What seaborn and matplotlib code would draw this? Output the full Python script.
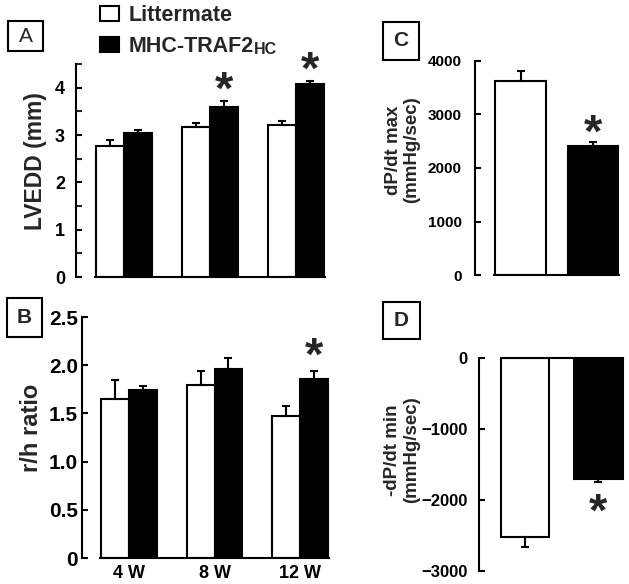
import matplotlib
matplotlib.use('Agg')
import matplotlib.pyplot as plt
from matplotlib.patches import Patch, Rectangle
import seaborn as sns
import pandas as pd
import numpy as np

# ── data ──────────────────────────────────────────────────────
weeks = ['4 W', '8 W', '12 W']
groups = ['Littermate', 'MHC-TRAF2HC']

lvedd_lit = [2.77, 3.17, 3.21]
lvedd_lit_sem = [0.13, 0.09, 0.09]
lvedd_tg = [3.04, 3.59, 4.09]
lvedd_tg_sem = [0.07, 0.14, 0.05]

rh_lit = [1.65, 1.79, 1.47]
rh_lit_sem = [0.20, 0.15, 0.11]
rh_tg = [1.74, 1.96, 1.86]
rh_tg_sem = [0.04, 0.11, 0.08]

dpdt_max = [3620, 2410]
dpdt_max_sem = [180, 70]
dpdt_min = [-2520, -1705]
dpdt_min_sem = [140, 45]

sig_a = [False, True, True]
sig_b = [False, False, True]

sns.set_theme(style='white')
plt.rcParams['font.family'] = ['Liberation Sans', 'DejaVu Sans']
plt.rcParams['font.weight'] = 'bold'

pal = {'Littermate': 'white', 'MHC-TRAF2HC': 'black'}
W, H = 629, 584
fig = plt.figure(figsize=(W / 100, H / 100), dpi=100)


def px_axes(left, top, right, bottom):
    return fig.add_axes([left / W, 1 - bottom / H, (right - left) / W, (bottom - top) / H])


def style(ax, ysize):
    for s in ['top', 'right']:
        ax.spines[s].set_visible(False)
    for s in ['left', 'bottom']:
        ax.spines[s].set_linewidth(1.5)
        ax.spines[s].set_color('black')
    ax.tick_params(axis='y', direction='in', length=4, width=1.5, labelsize=ysize,
                   left=True, colors='black')
    ax.tick_params(axis='y', which='minor', direction='in', length=4, width=1.5, left=True)
    ax.tick_params(axis='x', length=0)
    ax.set_xlabel('')
    ax.set_ylabel('')
    ax.grid(False)
    ax.set_facecolor('none')


def add_err(ax, sems_by_hue):
    for cont, sems in zip(ax.containers, sems_by_hue):
        xs = [b.get_x() + b.get_width() / 2 for b in cont]
        ys = [b.get_y() + b.get_height() for b in cont]
        ax.errorbar(xs, ys, yerr=[[0] * len(sems), sems], fmt='none', ecolor='black',
                    elinewidth=1.5, capsize=3.2, capthick=1.5, zorder=5, clip_on=False)


STAR_FS = 34


def star(ax, x, y, gap_px):
    # glyph centre of '*' sits roughly 0.46 em above the baseline
    dy = (gap_px - 0.46 * STAR_FS * 100 / 72) * 0.72
    ax.annotate('*', xy=(x, y), xytext=(0, dy), textcoords='offset points',
                ha='center', va='baseline', fontsize=STAR_FS, fontweight='bold',
                annotation_clip=False)


def ylab(ax, text, x, y, size):
    ax.text(x, y, text, transform=ax.transAxes, rotation=90, ha='center', va='center',
            fontsize=size, fontweight='bold', multialignment='center', linespacing=1.1)


# ── A: LVEDD ──────────────────────────────────────────────────
df_a = pd.DataFrame({'week': weeks * 2,
                     'group': [groups[0]] * 3 + [groups[1]] * 3,
                     'value': lvedd_lit + lvedd_tg})
axA = px_axes(76, 64.2, 330, 277)
sns.barplot(data=df_a, x='week', y='value', hue='group', palette=pal, order=weeks,
            hue_order=groups, width=0.65, errorbar=None, edgecolor='black',
            linewidth=1.5, saturation=1, legend=False, ax=axA)
style(axA, 13)
axA.set_ylim(0, 4.5)
axA.set_xlim(-0.558, 2.395)
axA.set_yticks([0, 1, 2, 3, 4])
axA.set_yticks(np.arange(0.5, 4.6, 1.0), minor=True)
axA.set_xticklabels([])
axA.spines['bottom'].set_bounds(-0.34, 2.34)
axA.tick_params(axis='y', pad=8)
add_err(axA, [lvedd_lit_sem, lvedd_tg_sem])
for i, s in enumerate(sig_a):
    if s:
        star(axA, i + 0.1625, lvedd_tg[i] + lvedd_tg_sem[i], 19)
ylab(axA, 'LVEDD (mm)', -0.161, 0.545, 16.5)

# ── B: r/h ratio ──────────────────────────────────────────────
df_b = pd.DataFrame({'week': weeks * 2,
                     'group': [groups[0]] * 3 + [groups[1]] * 3,
                     'value': rh_lit + rh_tg})
axB = px_axes(82, 317, 332, 558)
sns.barplot(data=df_b, x='week', y='value', hue='group', palette=pal, order=weeks,
            hue_order=groups, width=0.65, errorbar=None, edgecolor='black',
            linewidth=1.5, saturation=1, legend=False, ax=axB)
style(axB, 15)
axB.set_ylim(0, 2.5)
axB.set_xlim(-0.55, 2.374)
axB.set_yticks([0, 0.5, 1.0, 1.5, 2.0, 2.5])
axB.set_yticklabels(['0', '0.5', '1.0', '1.5', '2.0', '2.5'])
axB.spines['bottom'].set_bounds(-0.34, 2.34)
axB.tick_params(axis='y', pad=3)
axB.tick_params(axis='x', labelsize=13, pad=5, colors='black')
add_err(axB, [rh_lit_sem, rh_tg_sem])
for i, s in enumerate(sig_b):
    if s:
        star(axB, i + 0.1625, rh_tg[i] + rh_tg_sem[i], 23)
ylab(axB, 'r/h ratio', -0.2, 0.54, 17)

# ── C: dP/dt max ──────────────────────────────────────────────
df_c = pd.DataFrame({'group': groups, 'value': dpdt_max})
axC = px_axes(475, 60.7, 620, 275.3)
sns.barplot(data=df_c, x='group', y='value', hue='group', palette=pal, order=groups,
            width=0.7, errorbar=None, edgecolor='black', linewidth=1.5,
            saturation=1, legend=False, ax=axC)
style(axC, 11)
axC.set_ylim(0, 4000)
axC.set_xlim(-0.628, 1.372)
axC.set_yticks([0, 1000, 2000, 3000, 4000])
axC.set_xticklabels([])
axC.spines['bottom'].set_bounds(-0.36, 1.36)
axC.tick_params(axis='y', pad=9.5)
for cont, v, e in zip(axC.containers, dpdt_max, dpdt_max_sem):
    for b in cont:
        axC.errorbar(b.get_x() + b.get_width() / 2, v, yerr=[[0], [e]], fmt='none',
                     ecolor='black', elinewidth=1.5, capsize=3.2, capthick=1.5, zorder=5)
star(axC, 1, dpdt_max[1] + dpdt_max_sem[1], 17)
ylab(axC, 'dP/dt max\n(mmHg/sec)', -0.497, 0.584, 13.5)

# ── D: -dP/dt min ─────────────────────────────────────────────
df_d = pd.DataFrame({'group': groups, 'value': dpdt_min})
axD = px_axes(479, 358, 627, 570.7)
sns.barplot(data=df_d, x='group', y='value', hue='group', palette=pal, order=groups,
            width=0.66, errorbar=None, edgecolor='black', linewidth=1.5,
            saturation=1, legend=False, ax=axD)
style(axD, 12)
axD.set_ylim(-3000, 0)
axD.set_xlim(-0.626, 1.39)
axD.set_yticks([0, -1000, -2000, -3000])
axD.set_xticklabels([])
axD.spines['bottom'].set_visible(False)
axD.spines['top'].set_visible(True)
axD.spines['top'].set_linewidth(1.5)
axD.spines['top'].set_color('black')
axD.spines['top'].set_bounds(-0.33, 1.33)
axD.tick_params(axis='y', pad=8)
for cont, v, e in zip(axD.containers, dpdt_min, dpdt_min_sem):
    for b in cont:
        axD.errorbar(b.get_x() + b.get_width() / 2, v, yerr=[[e], [0]], fmt='none',
                     ecolor='black', elinewidth=1.5, capsize=3.2, capthick=1.5, zorder=5)
star(axD, 1, dpdt_min[1] - dpdt_min_sem[1], -22)
ylab(axD, '-dP/dt min\n(mmHg/sec)', -0.52, 0.567, 13.5)

# ── panel letters ─────────────────────────────────────────────
boxes = [('A', 8, 21, 43, 51, 'normal'), ('B', 7, 298, 42, 337, 'bold'),
         ('C', 383, 22, 419, 60, 'bold'), ('D', 383, 302, 420, 339, 'bold')]
for lab, x0, y0, x1, y1, wt in boxes:
    fig.patches.append(Rectangle((x0 / W, 1 - y1 / H), (x1 - x0) / W, (y1 - y0) / H,
                                 transform=fig.transFigure, fill=False,
                                 ec='black', lw=1.5))
    fig.text((x0 + x1) / 2 / W, 1 - (y0 + y1) / 2 / H, lab, ha='center', va='center',
             fontsize=15, fontweight=wt)

# ── legend ────────────────────────────────────────────────────
handles = [Patch(fc='white', ec='black', lw=1.5), Patch(fc='black', ec='black', lw=1.5)]
leg = fig.legend(handles, ['Littermate', 'MHC-TRAF2'], loc='upper left',
                 bbox_to_anchor=(98 / W, 1 - 3 / H), frameon=False,
                 prop={'weight': 'bold', 'size': 15.5}, handlelength=0.88,
                 handleheight=0.7, handletextpad=0.42, labelspacing=0.45,
                 borderaxespad=0, borderpad=0.1)
fig.canvas.draw()
bb = leg.get_texts()[1].get_window_extent()
fig.text(bb.x1 / W, bb.y0 / H, 'HC', ha='left', va='bottom', fontsize=11.5,
         fontweight='bold')

fig.savefig('out.png', dpi=100)
